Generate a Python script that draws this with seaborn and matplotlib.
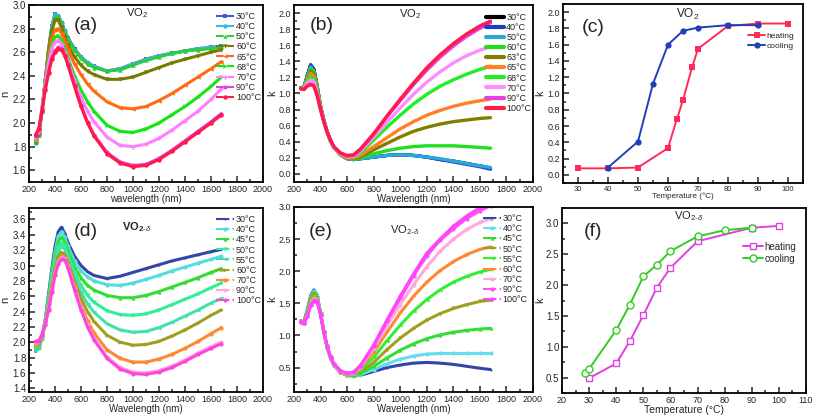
import matplotlib
matplotlib.use("Agg")
import matplotlib.pyplot as plt
import seaborn as sns
from matplotlib.ticker import AutoMinorLocator, MultipleLocator

sns.set_style("ticks")
plt.rcParams['font.family'] = ['Liberation Sans', 'DejaVu Sans']
plt.rcParams['mathtext.fontset'] = 'custom'
plt.rcParams['mathtext.rm'] = 'Liberation Sans'
plt.rcParams['mathtext.it'] = 'Liberation Sans:italic'
plt.rcParams['mathtext.bf'] = 'Liberation Sans:bold'

# ---------------- data ----------------
wl = [250, 275, 300, 325, 350, 375, 400, 425, 450, 475, 500, 550, 600, 650, 700,
      800, 900, 1000, 1100, 1200, 1300, 1400, 1500, 1600, 1680]

# (a) n of VO2
a_labels = ['30°C', '40°C', '50°C', '60°C', '65°C', '68°C', '70°C', '90°C', '100°C']
a_n = [
    [1.83,1.90,2.10,2.36,2.62,2.82,2.92,2.91,2.85,2.78,2.72,2.63,2.56,2.51,2.48,2.44,2.46,2.50,2.54,2.57,2.59,2.61,2.63,2.64,2.65],
    [1.83,1.90,2.10,2.36,2.62,2.82,2.92,2.91,2.85,2.78,2.71,2.62,2.56,2.51,2.48,2.44,2.46,2.50,2.54,2.57,2.59,2.61,2.63,2.64,2.65],
    [1.84,1.90,2.10,2.36,2.61,2.80,2.90,2.90,2.84,2.77,2.71,2.62,2.55,2.50,2.47,2.44,2.45,2.49,2.53,2.56,2.59,2.61,2.62,2.63,2.64],
    [1.84,1.90,2.10,2.36,2.60,2.78,2.87,2.87,2.81,2.73,2.66,2.56,2.49,2.44,2.41,2.37,2.37,2.39,2.43,2.47,2.51,2.54,2.57,2.60,2.62],
    [1.85,1.92,2.12,2.36,2.56,2.72,2.79,2.80,2.76,2.69,2.62,2.50,2.41,2.33,2.27,2.18,2.13,2.12,2.14,2.19,2.25,2.32,2.39,2.46,2.52],
    [1.86,1.92,2.12,2.34,2.52,2.66,2.73,2.74,2.70,2.63,2.55,2.40,2.28,2.18,2.10,1.98,1.93,1.92,1.95,2.00,2.07,2.14,2.22,2.31,2.39],
    [1.87,1.93,2.12,2.33,2.50,2.63,2.69,2.70,2.67,2.60,2.52,2.36,2.22,2.10,2.01,1.88,1.81,1.80,1.82,1.87,1.94,2.02,2.10,2.20,2.29],
    [1.89,1.95,2.10,2.29,2.43,2.55,2.61,2.64,2.63,2.58,2.50,2.32,2.15,2.01,1.90,1.75,1.67,1.64,1.65,1.70,1.77,1.85,1.93,2.01,2.08],
    [1.90,1.95,2.10,2.28,2.42,2.54,2.60,2.63,2.62,2.57,2.49,2.31,2.14,2.00,1.89,1.74,1.66,1.63,1.64,1.69,1.76,1.84,1.92,2.00,2.07],
]

# (b) k of VO2
b_labels = ['30°C', '40°C', '50°C', '60°C', '63°C', '65°C', '68°C', '70°C', '90°C', '100°C']
b_k = [
    [1.07,1.08,1.22,1.35,1.30,1.08,0.84,0.66,0.52,0.41,0.33,0.24,0.19,0.18,0.19,0.21,0.23,0.24,0.23,0.21,0.18,0.16,0.13,0.10,0.07],
    [1.07,1.08,1.22,1.36,1.30,1.08,0.84,0.66,0.52,0.41,0.33,0.24,0.19,0.18,0.19,0.21,0.23,0.24,0.23,0.21,0.18,0.15,0.12,0.09,0.06],
    [1.07,1.08,1.21,1.33,1.28,1.07,0.84,0.66,0.52,0.41,0.33,0.24,0.19,0.18,0.19,0.21,0.23,0.24,0.23,0.21,0.19,0.16,0.13,0.10,0.08],
    [1.07,1.08,1.20,1.31,1.27,1.06,0.84,0.66,0.52,0.41,0.33,0.24,0.19,0.18,0.20,0.25,0.29,0.32,0.34,0.35,0.35,0.35,0.34,0.33,0.32],
    [1.06,1.07,1.18,1.28,1.24,1.05,0.83,0.66,0.52,0.41,0.33,0.24,0.19,0.19,0.21,0.30,0.38,0.46,0.53,0.58,0.62,0.65,0.67,0.69,0.70],
    [1.06,1.07,1.17,1.25,1.22,1.04,0.83,0.66,0.52,0.41,0.33,0.24,0.20,0.20,0.23,0.34,0.45,0.56,0.65,0.73,0.79,0.84,0.88,0.91,0.93],
    [1.06,1.06,1.15,1.21,1.18,1.02,0.82,0.66,0.52,0.41,0.33,0.25,0.21,0.21,0.26,0.42,0.58,0.73,0.87,0.99,1.09,1.17,1.24,1.30,1.34],
    [1.06,1.06,1.13,1.17,1.15,1.00,0.81,0.65,0.52,0.41,0.33,0.25,0.21,0.22,0.28,0.46,0.64,0.82,0.99,1.14,1.27,1.38,1.47,1.54,1.58],
    [1.06,1.05,1.10,1.12,1.10,0.98,0.80,0.65,0.52,0.42,0.34,0.26,0.22,0.23,0.30,0.49,0.71,0.91,1.11,1.29,1.45,1.59,1.71,1.81,1.88],
    [1.06,1.05,1.09,1.11,1.09,0.97,0.80,0.65,0.52,0.42,0.34,0.26,0.23,0.24,0.31,0.50,0.72,0.93,1.13,1.32,1.48,1.62,1.74,1.84,1.90],
]

# (c) k of VO2 vs temperature
c_heat_T = [30, 40, 50, 60, 63, 65, 68, 70, 80, 90, 100]
c_heat_k = [0.08, 0.08, 0.09, 0.33, 0.69, 0.92, 1.32, 1.55, 1.83, 1.86, 1.86]
c_cool_T = [40, 50, 55, 60, 65, 70, 80, 90]
c_cool_k = [0.09, 0.41, 1.12, 1.60, 1.77, 1.81, 1.84, 1.84]

# (d) n of VO2-delta
d_labels = ['30°C', '40°C', '45°C', '50°C', '55°C', '60°C', '70°C', '90°C', '100°C']
d_n = [
    [1.88,1.92,2.05,2.30,2.62,2.95,3.25,3.44,3.50,3.42,3.30,3.12,3.00,2.92,2.87,2.83,2.86,2.91,2.96,3.01,3.06,3.10,3.14,3.18,3.21],
    [1.90,1.93,2.05,2.28,2.58,2.90,3.18,3.38,3.44,3.37,3.25,3.06,2.93,2.85,2.80,2.75,2.74,2.77,2.82,2.87,2.93,2.98,3.03,3.08,3.12],
    [1.92,1.95,2.06,2.28,2.56,2.86,3.12,3.31,3.37,3.31,3.19,2.98,2.84,2.74,2.68,2.61,2.58,2.58,2.61,2.66,2.72,2.78,2.84,2.91,2.96],
    [1.94,1.96,2.07,2.27,2.53,2.82,3.06,3.24,3.30,3.25,3.13,2.91,2.74,2.61,2.52,2.41,2.36,2.35,2.37,2.42,2.49,2.56,2.63,2.71,2.77],
    [1.95,1.97,2.07,2.26,2.51,2.78,3.01,3.18,3.25,3.21,3.09,2.85,2.65,2.50,2.39,2.24,2.16,2.13,2.14,2.19,2.26,2.34,2.42,2.51,2.57],
    [1.96,1.98,2.08,2.25,2.48,2.73,2.95,3.11,3.17,3.14,3.04,2.79,2.57,2.40,2.27,2.09,2.00,1.96,1.97,2.01,2.08,2.16,2.25,2.35,2.42],
    [1.98,2.00,2.09,2.24,2.45,2.69,2.91,3.06,3.12,3.10,3.00,2.73,2.48,2.28,2.12,1.90,1.79,1.74,1.74,1.78,1.84,1.92,2.01,2.11,2.19],
    [2.00,2.01,2.10,2.24,2.43,2.66,2.88,3.03,3.10,3.08,2.98,2.70,2.44,2.22,2.05,1.81,1.67,1.61,1.60,1.63,1.69,1.77,1.86,1.94,2.00],
    [2.01,2.02,2.10,2.23,2.42,2.65,2.87,3.02,3.08,3.07,2.97,2.68,2.42,2.20,2.03,1.79,1.65,1.59,1.58,1.61,1.67,1.75,1.84,1.92,1.98],
]

# (e) k of VO2-delta
e_labels = ['30°C', '40°C', '45°C', '50°C', '55°C', '60°C', '70°C', '90°C', '100°C']
e_k = [
    [1.22,1.22,1.40,1.62,1.71,1.62,1.35,1.05,0.82,0.65,0.54,0.43,0.38,0.37,0.38,0.44,0.50,0.54,0.57,0.58,0.57,0.55,0.52,0.49,0.47],
    [1.22,1.21,1.38,1.60,1.69,1.61,1.35,1.05,0.82,0.65,0.54,0.43,0.38,0.37,0.39,0.47,0.56,0.63,0.68,0.71,0.72,0.72,0.72,0.72,0.72],
    [1.22,1.21,1.37,1.58,1.67,1.60,1.34,1.05,0.82,0.65,0.54,0.43,0.38,0.38,0.41,0.52,0.65,0.77,0.87,0.95,1.01,1.05,1.08,1.10,1.11],
    [1.22,1.20,1.35,1.56,1.64,1.59,1.34,1.05,0.82,0.65,0.54,0.43,0.38,0.39,0.43,0.58,0.78,0.96,1.11,1.24,1.34,1.42,1.48,1.53,1.55],
    [1.22,1.20,1.34,1.53,1.61,1.57,1.33,1.05,0.82,0.65,0.54,0.43,0.38,0.40,0.46,0.66,0.92,1.16,1.38,1.56,1.71,1.83,1.92,1.99,2.03],
    [1.22,1.20,1.33,1.51,1.59,1.56,1.33,1.05,0.82,0.66,0.55,0.44,0.39,0.41,0.49,0.74,1.05,1.35,1.61,1.83,2.01,2.15,2.26,2.34,2.38],
    [1.21,1.20,1.31,1.49,1.57,1.55,1.32,1.05,0.83,0.66,0.55,0.44,0.40,0.42,0.51,0.80,1.15,1.48,1.79,2.07,2.31,2.50,2.65,2.76,2.82],
    [1.21,1.19,1.30,1.48,1.55,1.54,1.32,1.05,0.83,0.67,0.56,0.45,0.41,0.43,0.53,0.84,1.22,1.58,1.93,2.24,2.48,2.66,2.82,2.94,3.02],
    [1.21,1.19,1.30,1.47,1.54,1.53,1.32,1.05,0.83,0.67,0.56,0.45,0.41,0.43,0.53,0.85,1.24,1.61,1.96,2.28,2.50,2.70,2.86,2.99,3.08],
]

# (f) k of VO2-delta vs temperature
f_heat_T = [30, 40, 45, 50, 55, 60, 70, 90, 100]
f_heat_k = [0.49, 0.73, 1.09, 1.51, 1.96, 2.28, 2.71, 2.93, 2.96]
f_cool_T = [28.5, 30, 40, 45, 50, 55, 60, 70, 80, 90]
f_cool_k = [0.57, 0.64, 1.27, 1.68, 2.14, 2.33, 2.55, 2.79, 2.89, 2.93]

# ---------------- styles ----------------
a_colors = ['#3d5bc4', '#3cb4e6', '#2ecc40', '#7a7a00', '#ff6a13', '#14e614', '#ff80ff', '#e040e0', '#ff1a4a']
a_markers = ['s', 'o', '^', 'v', '<', '>', 'P', 'h', 'o']
b_colors = ['#000000', '#1f3fbf', '#29a8e0', '#22dd22', '#808000', '#ff7f27', '#22ee22', '#ff8cff', '#e040e0', '#ff1a4a']
d_colors = ['#3344aa', '#55dddd', '#33dd33', '#33ee99', '#44e0b0', '#a0a020', '#ff8833', '#ffaadd', '#ff44dd']
e_colors = ['#3344aa', '#66ddee', '#33dd33', '#a0a020', '#33ee33', '#ff8833', '#ffaadd', '#ff55ee', '#ff44ff']
de_markers = ['.', 'o', '^', 'v', '<', '>', 'o', 'o', 'o']

W, H = 814, 417
fig = plt.figure(figsize=(W / 100, H / 100), dpi=100)


def px_axes(l, t, r, b):
    return fig.add_axes([l / W, 1 - b / H, (r - l) / W, (b - t) / H])


def style(ax, xlabel, ylabel, xs=6.5, ys=7, xls=7, ylx=-0.08):
    for s in ax.spines.values():
        s.set_visible(True)
        s.set_linewidth(1.3)
        s.set_color('black')
    ax.xaxis.set_minor_locator(AutoMinorLocator(2))
    ax.yaxis.set_minor_locator(AutoMinorLocator(2))
    ax.tick_params(which='both', direction='in', width=1.1, pad=2,
                   top=False, right=False)
    ax.tick_params(axis='x', labelsize=xs)
    ax.tick_params(axis='y', labelsize=ys)
    ax.tick_params(which='major', length=4)
    ax.tick_params(which='minor', length=2)
    ax.set_xlabel(xlabel, fontsize=xls, labelpad=0)
    ax.set_ylabel(ylabel, fontsize=8)
    ax.yaxis.set_label_coords(ylx, 0.5)


def ftext(x, y, s, **kw):
    fig.text(x / W, 1 - y / H, s, ha='center', va='center', **kw)


def spectral_legend(ax, anchor, dash=None, lw=None):
    leg = ax.legend(loc='upper right', bbox_to_anchor=anchor, frameon=False, fontsize=6.5,
                    handlelength=2.0, handletextpad=0.2, labelspacing=0.12, borderpad=0.1)
    for l in leg.get_lines():
        if dash:
            l.set_linestyle(dash)
        if lw:
            l.set_linewidth(lw)


# (a)
ax = px_axes(29, 5, 263, 182)
for vals, lab, c, m in zip(a_n, a_labels, a_colors, a_markers):
    sns.lineplot(x=wl, y=vals, ax=ax, color=c, lw=2.2, marker=m, markersize=3.2,
                 markeredgewidth=0, label=lab)
ax.set_xlim(200, 2000)
ax.set_ylim(1.5, 3.0)
ax.xaxis.set_major_locator(MultipleLocator(200))
ax.yaxis.set_major_locator(MultipleLocator(0.2))
style(ax, 'wavelength (nm)', 'n', ylx=-0.08)
spectral_legend(ax, (1.015, 0.99), dash='--', lw=1.5)

# (b)
ax = px_axes(294, 5, 533, 182)
for vals, lab, c in zip(b_k, b_labels, b_colors):
    sns.lineplot(x=wl, y=vals, ax=ax, color=c, lw=2.4, label=lab)
ax.set_xlim(200, 2000)
ax.set_ylim(-0.1, 2.1)
ax.xaxis.set_major_locator(MultipleLocator(200))
ax.yaxis.set_major_locator(MultipleLocator(0.2))
style(ax, 'Wavelength (nm)', 'k', ys=6.5, ylx=-0.072)
spectral_legend(ax, (1.015, 0.985), lw=3)

# (c)
ax = px_axes(563, 4, 803, 183)
sns.lineplot(x=c_heat_T, y=c_heat_k, ax=ax, color='#ff2a5a', lw=1.4, marker='s',
             markersize=5, markeredgewidth=0, label='heating')
sns.lineplot(x=c_cool_T, y=c_cool_k, ax=ax, color='#2040b8', lw=1.4, marker='o',
             markersize=4.5, markeredgewidth=0, label='cooling')
ax.set_xlim(25, 105)
ax.set_ylim(-0.1, 2.1)
ax.set_xticks([30, 40, 50, 60, 70, 80, 90, 100])
ax.yaxis.set_major_locator(MultipleLocator(0.2))
style(ax, 'Temperature (°C)', 'k', xs=5.5, ys=6.5, xls=5.8, ylx=-0.075)
ax.legend(loc='upper right', bbox_to_anchor=(0.985, 0.87), frameon=False, fontsize=6,
          handlelength=2.0, handletextpad=0.2, labelspacing=0.25, borderpad=0.1)

# (d)
ax = px_axes(29, 208, 263, 392)
for vals, lab, c, m in zip(d_n, d_labels, d_colors, de_markers):
    sns.lineplot(x=wl, y=vals, ax=ax, color=c, lw=2.2, marker=m, markersize=3,
                 markeredgewidth=0, label=lab)
ax.set_xlim(200, 2000)
ax.set_ylim(1.35, 3.75)
ax.xaxis.set_major_locator(MultipleLocator(200))
ax.yaxis.set_major_locator(MultipleLocator(0.2))
style(ax, 'Wavelength (nm)', 'n', ylx=-0.08)
spectral_legend(ax, (1.015, 0.99), dash='-.', lw=1.5)

# (e)
ax = px_axes(294, 207, 533, 392)
for vals, lab, c, m in zip(e_k, e_labels, e_colors, de_markers):
    sns.lineplot(x=wl, y=vals, ax=ax, color=c, lw=2.2, marker=m, markersize=3,
                 markeredgewidth=0, label=lab)
ax.set_xlim(200, 2000)
ax.set_ylim(0.12, 3.0)
ax.xaxis.set_major_locator(MultipleLocator(200))
ax.yaxis.set_major_locator(MultipleLocator(0.5))
style(ax, 'Wavelength (nm)', 'k', ys=6.5, ylx=-0.072)
spectral_legend(ax, (1.0, 0.99), dash='-.', lw=1.5)

# (f)
ax = px_axes(562, 208, 806, 393)
sns.lineplot(x=f_heat_T, y=f_heat_k, ax=ax, color='#e040e0', lw=1.4, marker='s',
             markersize=5, markerfacecolor='white', markeredgecolor='#e040e0',
             markeredgewidth=1, label='heating')
sns.lineplot(x=f_cool_T, y=f_cool_k, ax=ax, color='#33cc22', lw=1.4, marker='o',
             markersize=5, markerfacecolor='white', markeredgecolor='#33cc22',
             markeredgewidth=1, label='cooling')
ax.set_xlim(20, 110)
ax.set_ylim(0.25, 3.25)
ax.xaxis.set_major_locator(MultipleLocator(10))
ax.yaxis.set_major_locator(MultipleLocator(0.5))
style(ax, 'Temperature (°C)', 'k', xs=6.5, ys=7, xls=7.5, ylx=-0.07)
ax.legend(loc='upper right', bbox_to_anchor=(0.985, 0.85), frameon=False, fontsize=7,
          handlelength=2.0, handletextpad=0.2, labelspacing=0.2, borderpad=0.1)

# panel titles and letters
ftext(137, 13, 'VO$_2$', fontsize=8)
ftext(410, 14, 'VO$_2$', fontsize=8)
ftext(688, 14, 'VO$_2$', fontsize=8.5)
ftext(137, 227, r'$\mathbf{VO}_{\mathbf{2\text{-}}\delta}$', fontsize=8)
ftext(405, 230, r'VO$_{2\text{-}\delta}$', fontsize=8)
ftext(689, 216, r'VO$_{2\text{-}\delta}$', fontsize=8)
ftext(86, 25, '(a)', fontsize=14)
ftext(322, 25, '(b)', fontsize=14)
ftext(593, 27, '(c)', fontsize=14)
ftext(86, 232, '(d)', fontsize=14)
ftext(321, 232, '(e)', fontsize=14)
ftext(593, 231, '(f)', fontsize=14)

fig.savefig('out.png', dpi=100)
